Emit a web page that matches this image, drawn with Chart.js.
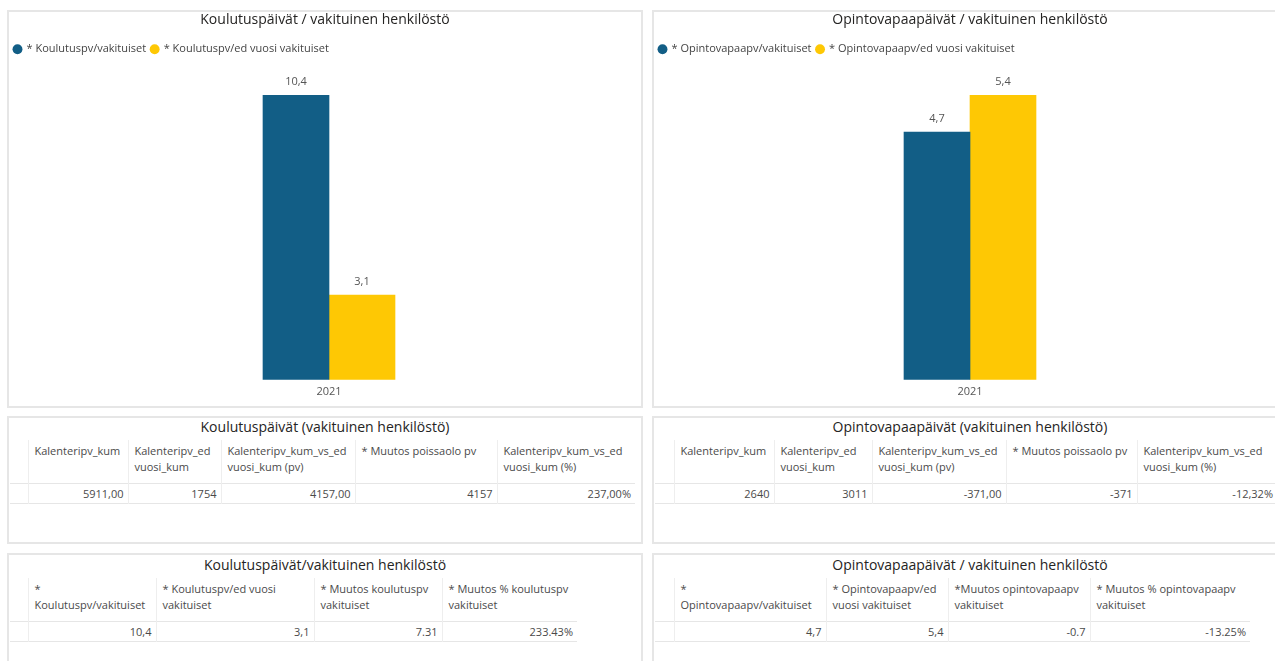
<!DOCTYPE html>
<html><head><meta charset="utf-8">
<script src="https://cdn.jsdelivr.net/npm/chart.js@4.4.1/dist/chart.umd.min.js"></script>
<style>
body{margin:0;background:#fff;width:1275px;height:661px;overflow:hidden;position:relative;font-family:'Open Sans',sans-serif;}
.panel{position:absolute;box-sizing:border-box;border:2px solid #e6e6e6;background:#fff;overflow:hidden}
.panel canvas{display:block}
.ttl{position:absolute;left:0;width:632px;text-align:center;font-size:14px;line-height:18px;color:#252423;white-space:nowrap}
table{position:absolute;border-collapse:collapse;table-layout:fixed;font-size:11px;color:#4a4a4a}
th{font-weight:normal;text-align:left;vertical-align:top;white-space:pre-line;line-height:16px;padding:3px 2px 0 6px;height:43px;box-sizing:border-box;border-left:1px solid #eeeeee;overflow:hidden}
td{text-align:right;padding:0 4px 0 0;height:19px;line-height:19px;box-sizing:border-box;border-left:1px solid #eeeeee;white-space:nowrap}
th:first-child,td:first-child{border-left:none}
tr{border-bottom:1px solid #e6e6e6}
</style>
</head><body>

<div class="panel" style="left:7px;top:10px;width:636px;height:398px"><canvas id="c1" width="632" height="394"></canvas></div>
<div class="panel" style="left:652px;top:10px;width:636px;height:398px"><canvas id="c2" width="632" height="394"></canvas></div>

<div class="panel" id="t1" style="left:7px;top:416px;width:636px;height:128px"><div class="ttl" style="top:0px">Koulutuspäivät (vakituinen henkilöstö)</div></div>
<div class="panel" id="t2" style="left:652px;top:416px;width:636px;height:128px"><div class="ttl" style="top:0px">Opintovapaapäivät (vakituinen henkilöstö)</div></div>
<div class="panel" id="t3" style="left:7px;top:553px;width:636px;height:120px"><div class="ttl" style="top:1px">Koulutuspäivät/vakituinen henkilöstö</div></div>
<div class="panel" id="t4" style="left:652px;top:553px;width:636px;height:120px"><div class="ttl" style="top:1px">Opintovapaapäivät / vakituinen henkilöstö</div></div>

<script>
// ---- data ----
const categories = ['2021'];

const koulutusTitle = 'Koulutuspäivät / vakituinen henkilöstö';
const koulutusSeriesNames = ['* Koulutuspv/vakituiset', '* Koulutuspv/ed vuosi vakituiset'];
const koulutusCurrent = [10.4];
const koulutusPrevious = [3.1];

const opintoTitle = 'Opintovapaapäivät / vakituinen henkilöstö';
const opintoSeriesNames = ['* Opintovapaapv/vakituiset', '* Opintovapaapv/ed vuosi vakituiset'];
const opintoCurrent = [4.7];
const opintoPrevious = [5.4];

const kalenteriHeaders = ['Kalenteripv_kum', 'Kalenteripv_ed\nvuosi_kum', 'Kalenteripv_kum_vs_ed\nvuosi_kum (pv)', '* Muutos poissaolo pv', 'Kalenteripv_kum_vs_ed\nvuosi_kum (%)'];
const koulutusKalenteriValues = ['5911,00', '1754', '4157,00', '4157', '237,00%'];
const opintoKalenteriValues = ['2640', '3011', '-371,00', '-371', '-12,32%'];

const koulutusPerHeaders = ['*\nKoulutuspv/vakituiset', '* Koulutuspv/ed vuosi\nvakituiset', '* Muutos koulutuspv\nvakituiset', '* Muutos % koulutuspv\nvakituiset'];
const koulutusPerValues = ['10,4', '3,1', '7.31', '233.43%'];
const opintoPerHeaders = ['*\nOpintovapaapv/vakituiset', '* Opintovapaapv/ed\nvuosi vakituiset', '*Muutos opintovapaapv\nvakituiset', '* Muutos % opintovapaapv\nvakituiset'];
const opintoPerValues = ['4,7', '5,4', '-0.7', '-13.25%'];

// ---- styles / layout ----
const BLUE = '#125E86';
const YELLOW = '#FEC804';
const FONT = "'Open Sans', sans-serif";
const SCALE_HEADROOM = 1.107;

const valueLabels = {
  id: 'valueLabels',
  afterDatasetsDraw(chart) {
    const ctx = chart.ctx;
    ctx.save();
    ctx.font = '11px ' + FONT;
    ctx.fillStyle = '#555';
    ctx.textAlign = 'center';
    ctx.textBaseline = 'bottom';
    chart.data.datasets.forEach((ds, i) => {
      chart.getDatasetMeta(i).data.forEach((bar, j) => {
        ctx.fillText(String(ds.data[j]).replace('.', ','), bar.x, bar.y - 8);
      });
    });
    ctx.restore();
  }
};

function makeChart(id, title, names, cur, prev, shift) {
  const maxV = Math.max(...cur, ...prev);
  new Chart(document.getElementById(id), {
    type: 'bar',
    data: {
      labels: categories,
      datasets: [
        { label: names[0], data: cur, backgroundColor: BLUE, barThickness: 66 },
        { label: names[1], data: prev, backgroundColor: YELLOW, barThickness: 66 }
      ]
    },
    options: {
      responsive: false,
      animation: false,
      layout: { padding: { left: 0, right: 0, top: 0, bottom: 3 } },
      plugins: {
        title: { display: true, text: title, color: '#252423', font: { family: FONT, size: 14, weight: 'normal' }, padding: { top: 0, bottom: 10 } },
        legend: {
          position: 'top', align: 'start',
          labels: { usePointStyle: true, pointStyle: 'circle', boxWidth: 7, boxHeight: 7, padding: 5, color: '#444', font: { family: FONT, size: 11 } }
        },
        tooltip: { enabled: false }
      },
      scales: {
        x: { grid: { display: false, drawTicks: false }, border: { display: false }, ticks: { color: '#555', padding: 5, font: { family: FONT, size: 11 } } },
        y: {
          min: 0, max: maxV * SCALE_HEADROOM,
          grid: { display: false, drawTicks: false }, border: { display: false },
          ticks: { display: false },
          afterFit: s => { s.width = shift; }
        }
      }
    },
    plugins: [valueLabels]
  });
}

makeChart('c1', koulutusTitle, koulutusSeriesNames, koulutusCurrent, koulutusPrevious, 8);
makeChart('c2', opintoTitle, opintoSeriesNames, opintoCurrent, opintoPrevious, 0);

function buildTable(panelId, headers, values, widths, top) {
  const t = document.createElement('table');
  t.style.left = '1px';
  t.style.top = top + 'px';
  const cg = document.createElement('colgroup');
  widths.forEach(w => { const c = document.createElement('col'); c.style.width = w + 'px'; cg.appendChild(c); });
  t.appendChild(cg);
  const hr = document.createElement('tr');
  hr.appendChild(document.createElement('th'));
  headers.forEach(h => { const th = document.createElement('th'); th.textContent = h; hr.appendChild(th); });
  const dr = document.createElement('tr');
  dr.appendChild(document.createElement('td'));
  values.forEach(v => { const td = document.createElement('td'); td.textContent = v; dr.appendChild(td); });
  t.appendChild(hr); t.appendChild(dr);
  t.style.width = widths.reduce((a, b) => a + b, 0) + 'px';
  document.getElementById(panelId).appendChild(t);
}

buildTable('t1', kalenteriHeaders, koulutusKalenteriValues, [18, 100, 93, 134, 142, 138], 22);
buildTable('t2', kalenteriHeaders, opintoKalenteriValues, [19, 100, 98, 134, 131, 140], 22);
buildTable('t3', koulutusPerHeaders, koulutusPerValues, [18, 128, 158, 128, 135], 23);
buildTable('t4', opintoPerHeaders, opintoPerValues, [19, 152, 122, 142, 160], 23);
</script>
</body></html>
